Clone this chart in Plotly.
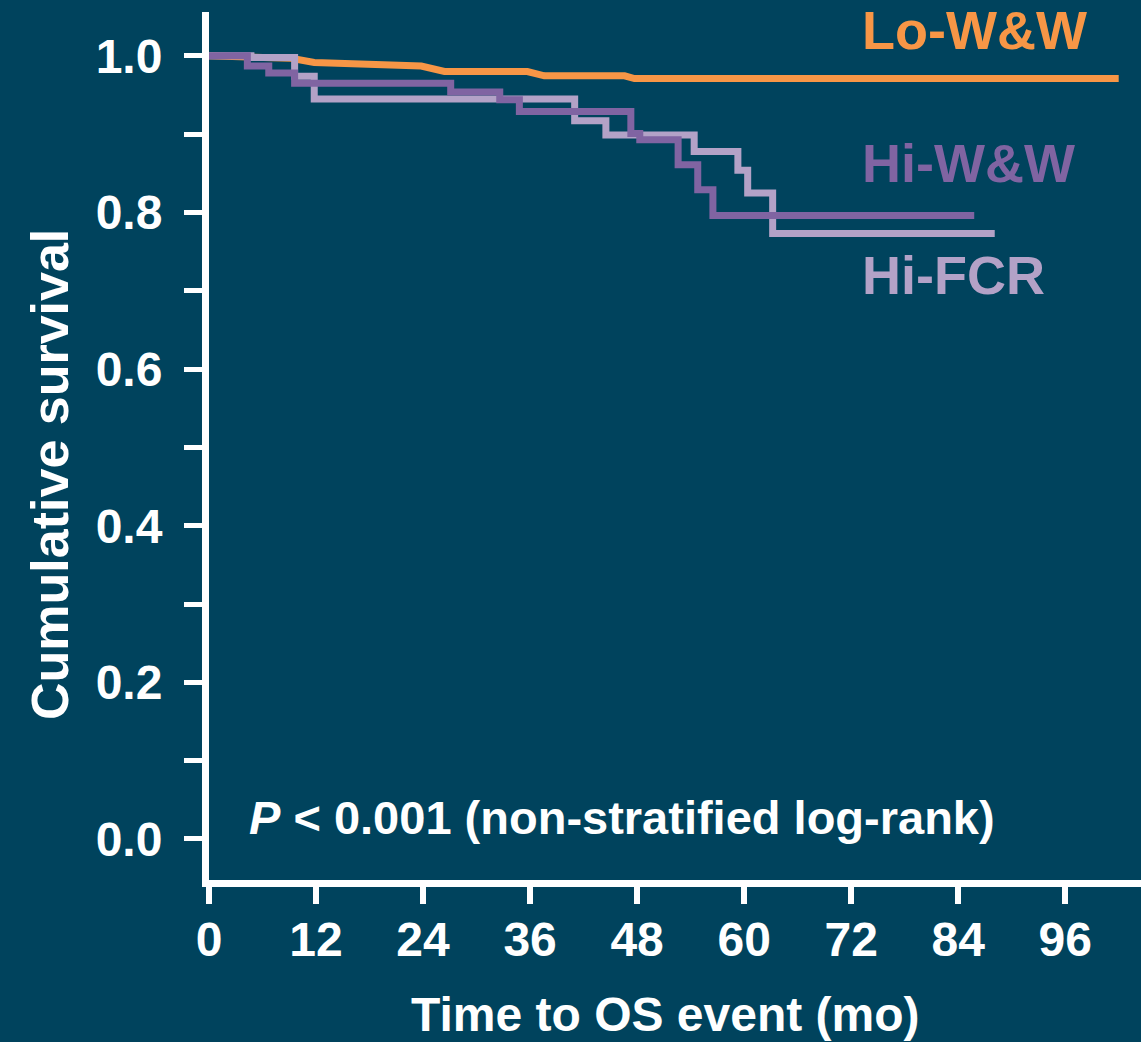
import plotly.graph_objects as go

# ---- data ----
lo_ww_time = [0, 9.2, 11.8, 23.8, 26.4, 35.7, 37.6, 46.6, 47.7, 102.0]
lo_ww_surv = [1.0, 0.997, 0.9915, 0.987, 0.980, 0.980, 0.9745, 0.9745, 0.971, 0.971]

hi_ww_time = [0, 4.3, 6.7, 9.6, 27.1, 32.6, 34.8, 47.3, 48.3, 52.6, 54.8, 56.5, 85.8]
hi_ww_surv = [1.0, 0.987, 0.978, 0.965, 0.954, 0.944, 0.929, 0.901, 0.893, 0.861, 0.829, 0.796, 0.796]

hi_fcr_time = [0, 4.7, 9.6, 11.8, 41.0, 44.5, 54.4, 59.3, 60.4, 63.2, 88.1]
hi_fcr_surv = [1.0, 0.998, 0.974, 0.945, 0.917, 0.899, 0.878, 0.854, 0.825, 0.773, 0.773]

x_ticks = [0, 12, 24, 36, 48, 60, 72, 84, 96]
y_ticks = [0.0, 0.2, 0.4, 0.6, 0.8, 1.0]

BG = "#00435D"
ORANGE = "#F79646"
DARK_PURPLE = "#8064A2"
LIGHT_PURPLE = "#B3A2C7"
FONT = "Liberation Sans, Arial, sans-serif"

fig = go.Figure()
fig.add_trace(go.Scatter(x=lo_ww_time, y=lo_ww_surv, mode="lines",
                         line=dict(color=ORANGE, width=7, shape="linear"),
                         name="Lo-W&W"))
fig.add_trace(go.Scatter(x=hi_fcr_time, y=hi_fcr_surv, mode="lines",
                         line=dict(color=LIGHT_PURPLE, width=7, shape="hv"),
                         name="Hi-FCR"))
fig.add_trace(go.Scatter(x=hi_ww_time, y=hi_ww_surv, mode="lines",
                         line=dict(color=DARK_PURPLE, width=7, shape="hv"),
                         name="Hi-W&W"))

label_font = dict(family=FONT, size=54, weight="bold")
fig.add_annotation(x=73.0, y=1.033, text="Lo-W&W", showarrow=False,
                   xanchor="left", yanchor="middle",
                   font=dict(**label_font, color=ORANGE))
fig.add_annotation(x=73.0, y=0.863, text="Hi-W&W", showarrow=False,
                   xanchor="left", yanchor="middle",
                   font=dict(**label_font, color=DARK_PURPLE))
fig.add_annotation(x=73.0, y=0.720, text="Hi-FCR", showarrow=False,
                   xanchor="left", yanchor="middle",
                   font=dict(**label_font, color=LIGHT_PURPLE))
fig.add_annotation(x=4.3, y=0.027, text="<i>P</i> < 0.001 (non-stratified log-rank)",
                   showarrow=False, xanchor="left", yanchor="middle",
                   font=dict(family=FONT, size=47, weight="bold", color="white"))
# axis titles (paper coordinates)
fig.add_annotation(xref="paper", yref="paper", x=0.4898, y=-0.1544,
                   text="Time to OS event (mo)",
                   showarrow=False, xanchor="center", yanchor="middle",
                   font=dict(family=FONT, size=48, weight="bold", color="white"))
fig.add_annotation(xref="paper", yref="paper", x=-0.1706, y=0.4666,
                   text="Cumulative survival", textangle=-90,
                   showarrow=False, xanchor="center", yanchor="middle",
                   font=dict(family=FONT, size=52, weight="bold", color="white"))

tick_font = dict(family=FONT, size=48, weight="bold", color="white")
fig.update_xaxes(range=[0, 104.5], showgrid=False, zeroline=False,
                 showline=True, linewidth=7, linecolor="white",
                 tickmode="array", tickvals=x_ticks, ticktext=[str(v) for v in x_ticks],
                 ticks="outside", ticklen=17, tickwidth=6, tickcolor="white",
                 tickfont=tick_font, ticklabelstandoff=-6)
fig.update_yaxes(range=[-0.0524, 1.056], showgrid=False, zeroline=False,
                 showline=True, linewidth=7, linecolor="white",
                 tickmode="array", tickvals=y_ticks, ticktext=[f"{v:.1f}" for v in y_ticks],
                 ticks="outside", ticklen=18, tickwidth=5, tickcolor="white",
                 tickfont=tick_font, ticklabelstandoff=12,
                 minor=dict(dtick=0.1, tick0=0, ticks="outside", ticklen=18,
                            tickwidth=5, tickcolor="white", showgrid=False))

fig.update_layout(width=1141, height=1042, paper_bgcolor=BG, plot_bgcolor=BG,
                  margin=dict(l=209, r=0, t=12, b=162), showlegend=False)

fig.write_html("out.html")
